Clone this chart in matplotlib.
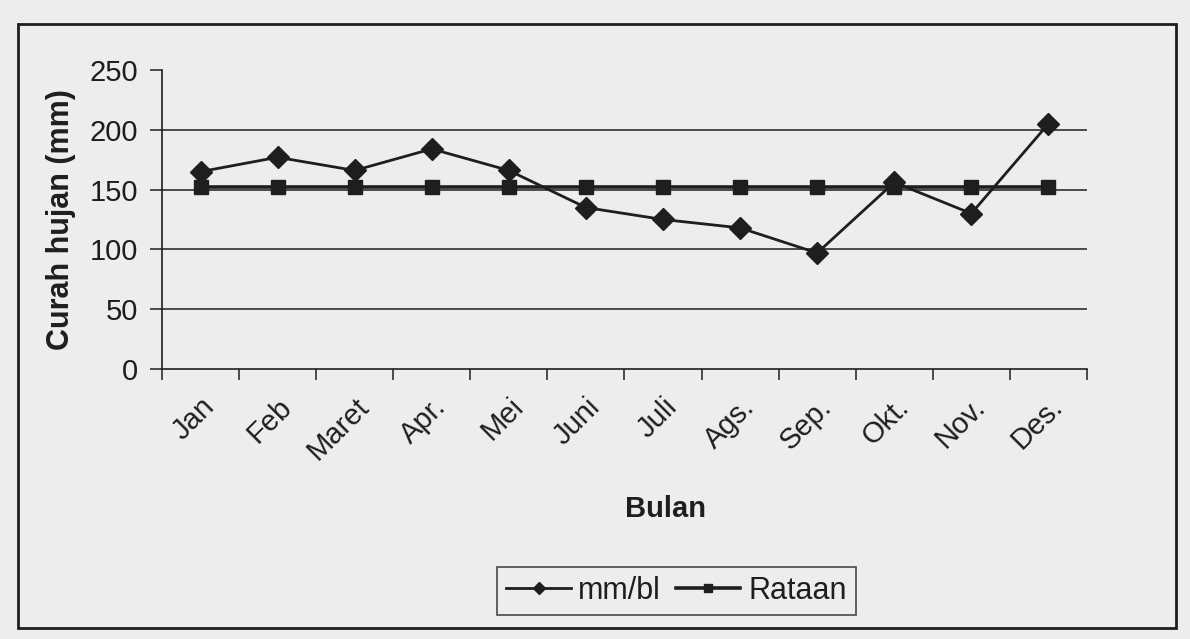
import numpy as np
import matplotlib
matplotlib.use("Agg")
import matplotlib.pyplot as plt
from matplotlib.patches import Rectangle

plt.rcParams['font.family'] = ['Liberation Sans', 'DejaVu Sans']

# monthly rainfall
bulan = ['Jan', 'Feb', 'Maret', 'Apr.', 'Mei', 'Juni', 'Juli', 'Ags.', 'Sep.', 'Okt.', 'Nov.', 'Des.']
mm_bl = [165, 177, 166, 184, 166, 135, 125, 118, 97, 156, 130, 205]
rataan = [152, 152, 152, 152, 152, 152, 152, 152, 152, 152, 152, 152]

ink = '#1e1e1e'
paper = '#ededed'

fig = plt.figure(figsize=(11.9, 6.39), dpi=100, facecolor=paper)
ax = fig.add_axes([0.1361, 0.4225, 0.7773, 0.468])
ax.set_facecolor(paper)

x = np.arange(len(bulan))
ax.plot(x, mm_bl, color=ink, lw=2.0, marker='D', ms=11, label='mm/bl')
ax.plot(x, rataan, color=ink, lw=2.6, marker='s', ms=10.5, label='Rataan')

ax.set_xlim(-0.5, len(bulan) - 0.5)
ax.set_ylim(0, 250)
ax.set_yticks(range(0, 251, 50))
for v in range(50, 201, 50):
    ax.axhline(v, color=ink, lw=1.1, zorder=0)

ax.set_xticks(np.arange(-0.5, len(bulan), 1.0))
ax.set_xticklabels([])
ax.set_xticks(x, minor=True)
ax.set_xticklabels(bulan, minor=True, rotation=45, ha='right', va='top',
                   rotation_mode='anchor', fontsize=21, color=ink)
ax.tick_params(axis='x', which='minor', length=0, pad=17)
ax.tick_params(axis='x', which='major', length=8, width=1.1, color=ink, direction='out')
ax.tick_params(axis='y', length=9, width=1.1, color=ink, labelsize=21, labelcolor=ink, pad=8)

for s in ['top', 'right']:
    ax.spines[s].set_visible(False)
for s in ['left', 'bottom']:
    ax.spines[s].set_color(ink)
    ax.spines[s].set_linewidth(1.2)

ax.set_ylabel('Curah hujan (mm)', fontsize=22, fontweight='bold', color=ink, labelpad=10)
fig.text(0.559, 0.203, 'Bulan', fontsize=21, fontweight='bold', color=ink, ha='center', va='center')

leg = fig.legend(loc='center', bbox_to_anchor=(0.5685, 0.0755), ncol=2, frameon=True,
                 fancybox=False, edgecolor=ink, facecolor=paper, fontsize=22,
                 handlelength=2.1, columnspacing=0.5, handletextpad=0.25, borderpad=0.3,
                 markerscale=0.6)
leg.get_frame().set_linewidth(1.2)
for t in leg.get_texts():
    t.set_color(ink)

fig.patches.append(Rectangle((18 / 1190, 1 - 628 / 639), (1176 - 18) / 1190, (628 - 24) / 639,
                             transform=fig.transFigure, fill=False, edgecolor=ink, lw=2))

fig.savefig('out.png', dpi=100, facecolor=paper)
